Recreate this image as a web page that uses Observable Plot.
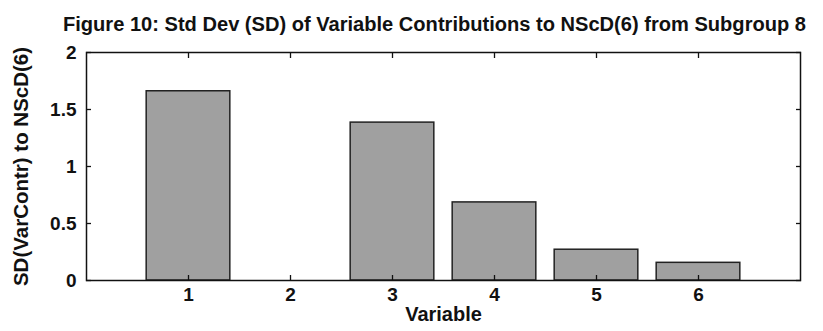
<!DOCTYPE html>
<html><head><meta charset="utf-8">
<script src="https://cdn.jsdelivr.net/npm/d3@7"></script>
<script src="https://cdn.jsdelivr.net/npm/@observablehq/plot@0.6"></script>
<style>body{margin:0;background:#fff} svg{display:block}</style>
</head><body><div id="chart"></div>
<script>
const variables = [1, 2, 3, 4, 5, 6];
const sdValues = [1.66, 0, 1.385, 0.685, 0.27, 0.155];
const xTicks = [1, 2, 3, 4, 5, 6];
const yTicks = [0, 0.5, 1, 1.5, 2];
const titleText = "Figure 10: Std Dev (SD) of Variable Contributions to NScD(6) from Subgroup 8";
const xLabel = "Variable";
const yLabel = "SD(VarContr) to NScD(6)";

const data = variables.map((v, i) => ({variable: v, sd: sdValues[i]}));
const barHalf = 0.41;
const font = "'Liberation Sans', Arial, sans-serif";

const chart = Plot.plot({
  width: 823, height: 331,
  marginLeft: 86, marginRight: 23, marginTop: 52, marginBottom: 51,
  style: {fontFamily: font, background: "#fff", color: "#111", overflow: "visible"},
  x: {domain: [0, 7], label: null},
  y: {domain: [0, 2], label: null},
  marks: [
    Plot.rectY(data, {x1: d => d.variable - barHalf, x2: d => d.variable + barHalf, y1: 0, y2: "sd",
      fill: "#a0a0a0", stroke: "#222", strokeWidth: 1.5}),
    Plot.frame({stroke: "#111", strokeWidth: 1.5}),
    Plot.axisX(xTicks, {anchor: "bottom", tickSize: -5, tickFormat: () => "", strokeWidth: 1.3}),
    Plot.axisX(xTicks, {anchor: "top", tickSize: -5, tickFormat: () => "", strokeWidth: 1.3}),
    Plot.axisX(xTicks, {anchor: "bottom", tickSize: 0, tickPadding: 7, fontSize: 19, fontWeight: "bold", fill: "#111"}),
    Plot.axisY(yTicks, {anchor: "left", tickSize: -5, tickFormat: () => "", strokeWidth: 1.3}),
    Plot.axisY(yTicks, {anchor: "right", tickSize: -5, tickFormat: () => "", strokeWidth: 1.3}),
    Plot.axisY(yTicks, {anchor: "left", tickSize: 0, tickPadding: 10, fontSize: 19, fontWeight: "bold", fill: "#111", tickFormat: d => String(d)}),
    Plot.text([titleText], {frameAnchor: "top", dx: -9, dy: -22, lineAnchor: "bottom", fontSize: 20, fontWeight: "bold", fill: "#111", className: "ttl"}),
    Plot.text([yLabel], {frameAnchor: "left", textAnchor: "middle", rotate: -90, dx: -65, fontSize: 20.5, fontWeight: "bold", fill: "#111"}),
    Plot.text([xLabel], {frameAnchor: "bottom", dy: 40, fontSize: 20, fontWeight: "bold", fill: "#111"})
  ]
});
document.getElementById("chart").appendChild(chart);
d3.select(chart).selectAll(".ttl text").attr("textLength", 743).attr("lengthAdjust", "spacingAndGlyphs");
</script>
</body></html>
